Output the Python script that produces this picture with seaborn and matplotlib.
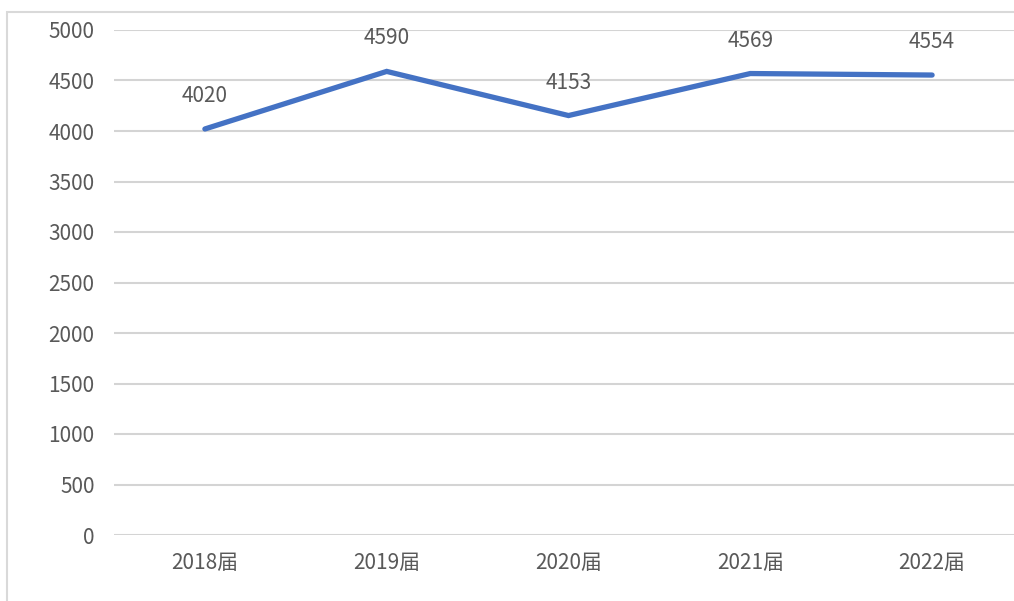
import numpy as np
import matplotlib
matplotlib.use('Agg')
import matplotlib.pyplot as plt
import pandas as pd
import seaborn as sns
from matplotlib.patches import Rectangle

years = ['2018届', '2019届', '2020届', '2021届', '2022届']
counts = [4020, 4590, 4153, 4569, 4554]
yticks = [0, 500, 1000, 1500, 2000, 2500, 3000, 3500, 4000, 4500, 5000]

df = pd.DataFrame({'year': years, 'count': counts})

sns.set_style('white')
plt.rcParams['font.family'] = ['Noto Sans CJK SC', 'DejaVu Sans']
plt.rcParams['font.weight'] = 'light'

fig = plt.figure(figsize=(10.14, 6.01), dpi=100)
ax = fig.add_axes([114 / 1014, 66 / 601, 909 / 1014, 505 / 601])

grey = '#595959'
for t in yticks:
    ax.axhline(t, color='#D4D4D4', lw=1.5, zorder=0)

sns.lineplot(data=df, x='year', y='count', ax=ax, color='#4472C4', lw=3.8,
             sort=False, solid_capstyle='round', solid_joinstyle='miter')

for i, v in enumerate(counts):
    ax.annotate(str(v), (i, v), xytext=(0, 33), textcoords='offset pixels',
                ha='center', va='center', fontsize=15, color=grey)

ax.set_xlim(-0.5, 4.5)
ax.set_ylim(0, 5000)
ax.set_yticks(yticks)
ax.set_xlabel('')
ax.set_ylabel('')
for s in ax.spines.values():
    s.set_visible(False)
ax.tick_params(axis='both', length=0, labelsize=15, colors=grey)
ax.tick_params(axis='y', pad=14)
ax.tick_params(axis='x', pad=12)

fig.patches.append(Rectangle((7 / 1014, -0.1), 1.2, (601 - 12) / 601 + 0.1,
                             transform=fig.transFigure, fill=False,
                             edgecolor='#D9D9D9', lw=1.5))

fig.savefig('out.png', dpi=100)
